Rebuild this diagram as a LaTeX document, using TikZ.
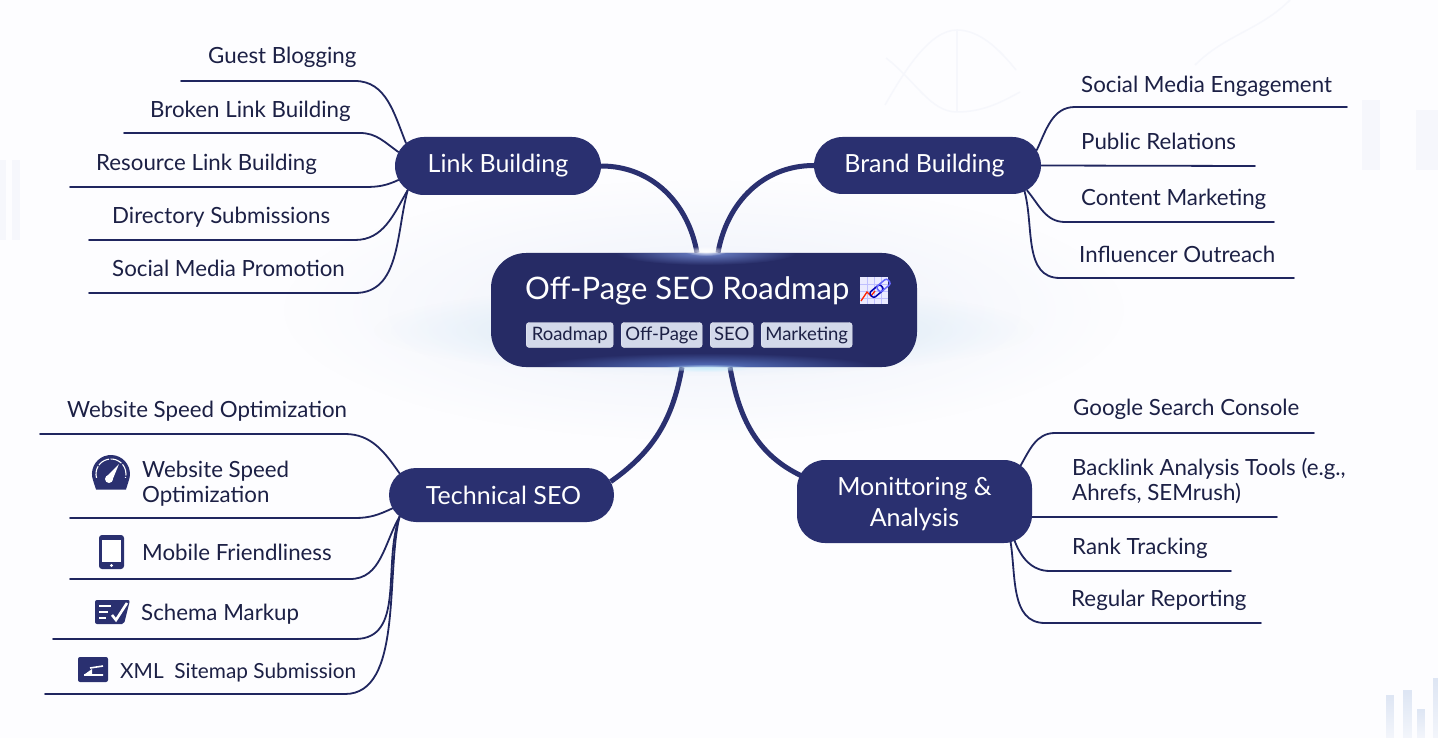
\documentclass[tikz,border=0pt]{standalone}
\usepackage{fontspec}
\setmainfont{Lato}
\usepackage{tikz}
\usetikzlibrary{shapes.misc, backgrounds, fadings}

\definecolor{navy}{HTML}{2A3070}
\definecolor{inkline}{HTML}{20265F}
\definecolor{ink}{HTML}{1C2045}
\definecolor{tagfill}{HTML}{D3D9EA}
\definecolor{paper}{HTML}{FDFDFF}
\definecolor{faintblue}{HTML}{EDF1FA}
\definecolor{barblue}{HTML}{DEE6F4}
\definecolor{ghost}{HTML}{F6F7FC}

\tikzfading[name=glowfade, inner color=transparent!0, outer color=transparent!100]
\tikzfading[name=barfade, top color=transparent!0, bottom color=transparent!70]

\tikzset{
  pill/.style={rounded rectangle, fill=navy, text=white, font=\fontsize{25}{29}\selectfont, inner sep=0pt},
  leaf/.style={anchor=west, text=ink, font=\fontsize{22.3}{25}\selectfont, inner sep=0pt, align=left},
  oneline/.style={leaf, text height=18.5pt, text depth=1.5pt},
  tag/.style={anchor=west, fill=tagfill, draw=white!70!tagfill, rounded corners=3pt, text=ink, font=\fontsize{18.5}{20}\selectfont, minimum height=25pt, inner sep=0pt, text height=14pt, text depth=3pt},
  twig/.style={draw=inkline, line width=1.8pt, line cap=round},
  limb/.style={draw=navy, line width=5pt},
  backdrop/.style={fill=barblue, path fading=barfade},
  ghostline/.style={draw=ghost, line width=1.5pt}
}

\begin{document}
\begin{tikzpicture}[x=1pt, y=-1pt]
\useasboundingbox (0,0) rectangle (1438,738);

\node[fill=navy!90!black, rounded corners=35pt, minimum width=426pt, minimum height=114pt, inner sep=0pt] (cn) at (704,310) {};

% glow on the centre box
\begin{scope}
\clip[rounded corners=35pt] (491,253) rectangle (917,367);
\fill[cyan!30!blue!60!white, path fading=glowfade] (706,253) ellipse (90pt and 12pt);
\fill[cyan!30!blue!70!white, path fading=glowfade] (706,367) ellipse (170pt and 14pt);
\end{scope}

\node[text=white, anchor=west, font=\fontsize{31}{35}\selectfont, inner sep=0pt] (title) at (525,291) {Off-Page SEO Roadmap};
\node[tag, minimum width=87pt] (t1) at (526,335) {Roadmap};
\node[tag, minimum width=81pt] (t2) at (621,335) {Off-Page};
\node[tag, minimum width=43pt] (t3) at (710,335) {SEO};
\node[tag, minimum width=91pt] (t4) at (761,335) {Marketing};

\node[pill, minimum width=206pt, minimum height=58pt] (lb) at (498,166) {Link Building};
\node[pill, minimum width=227pt, minimum height=57pt] (bb) at (927.5,165.5) {\hspace*{-6pt}Brand Building};
\node[pill, minimum width=225pt, minimum height=54pt] (ts) at (501.5,495) {\hspace*{4pt}Technical SEO};
\node[fill=navy, text=white, rounded corners=28pt, minimum width=235pt, minimum height=83pt, inner sep=0pt, align=center, font=\fontsize{25}{31}\selectfont] (ma) at (914.5,501.5) {\rule{0pt}{24pt}Monittoring \&\\Analysis};

\node[oneline] (l1) at (208,55) {Guest Blogging};
\node[oneline] (l2) at (150,109) {Broken Link Building};
\node[oneline] (l3) at (96,162) {Resource Link Building};
\node[oneline] (l4) at (112,215) {Directory Submissions};
\node[oneline] (l5) at (112,268) {Social Media Promotion};

\node[oneline] (b1) at (1081,84) {Social Media Engagement};
\node[oneline] (b2) at (1081,141) {Public Relations};
\node[oneline] (b3) at (1081,197) {Content Marketing};
\node[oneline] (b4) at (1079,254) {Influencer Outreach};

\node[oneline] (s1) at (67,409) {Website Speed Optimization};
\node[leaf] (s2) at (142,484) {Website Speed\\Optimization};
\node[oneline] (s3) at (142,552) {Mobile Friendliness};
\node[oneline] (s4) at (141,612) {Schema Markup};
\node[oneline, font=\fontsize{20.8}{25}\selectfont] (s5) at (120,670) {XML\ \ Sitemap Submission};

\node[oneline] (m1) at (1073,407) {Google Search Console};
\node[leaf] (m2) at (1072,481) {Backlink Analysis Tools (e.g.,\\Ahrefs, SEMrush)};
\node[oneline] (m3) at (1072,546) {Rank Tracking};
\node[oneline] (m4) at (1071,598) {Regular Reporting};

\coordinate (l1end) at (181,81);
\coordinate (l2end) at (124,133);
\coordinate (l3end) at (70,187);
\coordinate (l4end) at (89,240);
\coordinate (l5end) at (89,293);
\coordinate (b1end) at (1347,107);
\coordinate (b2end) at (1255,166);
\coordinate (b3end) at (1274,222);
\coordinate (b4end) at (1294,278);
\coordinate (s1end) at (40,434);
\coordinate (s2end) at (70,518);
\coordinate (s3end) at (70,579);
\coordinate (s4end) at (53,639);
\coordinate (s5end) at (45,694);
\coordinate (m1end) at (1314,433);
\coordinate (m2end) at (1277,517);
\coordinate (m3end) at (1231,571);
\coordinate (m4end) at (1261,623);

\begin{scope}[on background layer]
\fill[paper] (0,0) rectangle (1438,738);
% backdrop
\fill[faintblue, path fading=glowfade] (704,310) ellipse (420pt and 130pt);
\fill[cyan!12!faintblue, path fading=glowfade] (704,330) ellipse (330pt and 46pt);
\fill[backdrop] (1386,695) rectangle (1394,738);
\fill[backdrop] (1403,690) rectangle (1412,738);
\fill[backdrop] (1417,709) rectangle (1425,738);
\fill[backdrop] (1433,678) rectangle (1438,738);
\fill[ghost] (1362,100) rectangle (1380,170);
\fill[ghost] (1416,110) rectangle (1438,170);
\fill[ghost] (0,160) rectangle (6,240);
\fill[ghost] (12,160) rectangle (20,240);
\draw[ghostline] (885,105) .. controls (905,70) and (930,30) .. (957,30) .. controls (980,30) and (1000,50) .. (1016,70);
\draw[ghostline] (886,58) .. controls (915,80) and (930,112) .. (957,112) .. controls (985,112) and (1005,100) .. (1020,92);
\draw[ghostline] (957,30) -- (957,112);
\draw[ghostline] (1195,65) .. controls (1225,35) and (1260,30) .. (1290,0);
% twigs
\draw[twig] (l1end) -- ++(174,0) to[out=0, in=112] (lb.166);
\draw[twig] (l2end) -- ++(236,0) to[out=0, in=145] (lb.172);
\draw[twig] (l3end) -- ++(295,0) to[out=0, in=205] (lb.188);
\draw[twig] (l4end) -- ++(266,0) to[out=0, in=240] (lb.195);
\draw[twig] (l5end) -- ++(266,0) to[out=0, in=255] (lb.195);
\draw[twig] (b1end) -- ++(-272,0) to[out=180, in=65] (bb.8);
\draw[twig] (b2end) -- (bb.east);
\draw[twig] (b3end) -- ++(-209,0) to[out=180, in=-50] (bb.-14);
\draw[twig] (b4end) -- ++(-234,0) to[out=180, in=-75] (bb.-15);
\draw[twig] (s1end) -- ++(305,0) to[out=0, in=125] (ts.168);
\draw[twig] (s2end) -- ++(285,0) to[out=0, in=205] (ts.187);
\draw[twig] (s3end) -- ++(280,0) to[out=0, in=240] (ts.192);
\draw[twig] (s4end) -- ++(302,0) to[out=0, in=250] (ts.192);
\draw[twig] (s5end) -- ++(300,0) to[out=0, in=256, looseness=.8] (ts.192);
\draw[twig] (m1end) -- ++(-259,0) to[out=180, in=60] ([xshift=-12pt, yshift=-3pt]ma.18);
\draw[twig] (m2end) -- (m2end -| ma.east);
\draw[twig] (m3end) -- ++(-181,0) to[out=180, in=-70] ([xshift=-18pt]ma.-18);
\draw[twig] (m4end) -- ++(-216,0) to[out=180, in=-80] ([xshift=-22pt]ma.-18);
% limbs
\draw[limb] (lb.east) to[out=0, in=100] ([xshift=-7pt]cn.north);
\draw[limb] (bb.west) to[out=180, in=80] ([xshift=14pt]cn.north);
\draw[limb] (ts.7) to[out=35, in=-100] ([xshift=-22pt]cn.south);
\draw[limb] ([xshift=6pt]ma.168) to[out=155, in=-80] ([xshift=26pt]cn.south);
\end{scope}

% bright spots where the limbs meet the box
\fill[white, path fading=glowfade] (706,251) ellipse (22pt and 5pt);
\fill[cyan!20!white, path fading=glowfade] (706,368) ellipse (46pt and 4pt);

% title icon
\fill[white!92!blue] (860,277) rectangle (888,304);
\draw[blue!25!white, line width=.4pt] (860,284) -- (888,284) (860,291) -- (888,291) (860,298) -- (888,298) (867,277) -- (867,304) (874,277) -- (874,304) (881,277) -- (881,304);
\draw[red!70!orange, line width=1.3pt] (861,301) -- (867,292) -- (871,296) -- (875,291);
\draw[blue!70!black, line width=1.5pt, rounded corners=2.5pt, rotate around={40:(880,289)}] (869,285) rectangle (883,292);
\draw[blue!60!white, line width=1.5pt, rounded corners=2.5pt, rotate around={40:(880,289)}] (878,285) rectangle (892,292);

% gauge
\fill[navy] (93.1,480.5) arc (160:380:19) -- (126,489.5) -- (96,489.5) -- cycle;
\draw[white, line width=1.1pt, dash pattern=on 12pt off 1.5pt] (111,474) ++(165:15) arc (165:375:15);
\fill[white] (106,477) -- (119,464) -- (112,481) -- cycle;
\fill[white] (109,479) circle (4pt);

% phone
\fill[navy, rounded corners=3pt] (99,535) rectangle (124,569);
\fill[white] (102,540) rectangle (121,562);
\fill[white] (111.5,565.5) circle (1.6pt);

% schema
\fill[navy, rounded corners=2pt] (95,600) -- (130,600) -- (124,624) -- (95,624) -- cycle;
\draw[white, line width=1.6pt] (99,606) -- (111,606) (99,612) -- (108,612) (99,618) -- (106,618);
\draw[white, line width=2.6pt] (112,615) -- (116,620) -- (127,603);

% xml
\fill[navy, rounded corners=2pt] (78,657) rectangle (108,682);
\draw[white, line width=1.6pt] (90,668) -- (103,666) (84,675) -- (103,675);
\fill[white] (85,674) -- (92,669) -- (92,674) -- cycle;
\end{tikzpicture}
\end{document}
